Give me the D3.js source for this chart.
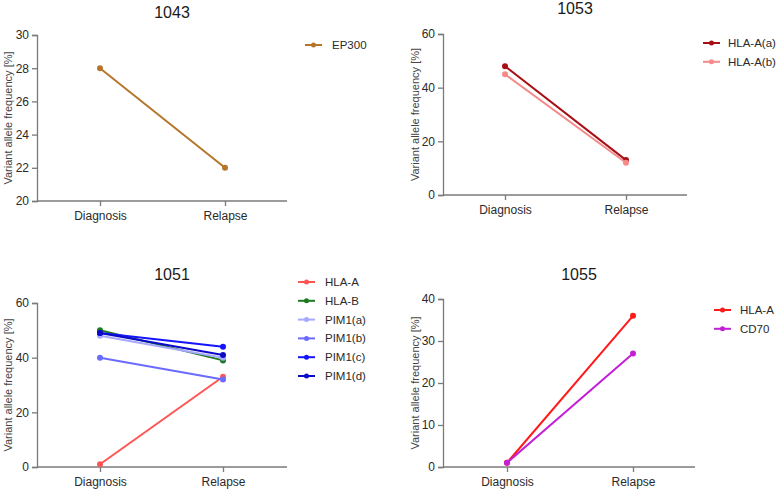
<!DOCTYPE html>
<html><head><meta charset="utf-8">
<script src="https://cdn.jsdelivr.net/npm/d3@7"></script>
<style>body{margin:0;background:#fff}svg{display:block}text{font-family:"Liberation Sans",Arial,sans-serif}</style>
</head><body><svg id="c" width="778" height="489"></svg>
<script>
const timepoints = ["Diagnosis", "Relapse"];
const yLabel = "Variant allele frequency [%]";

const p1043Series = ["EP300"];
const p1043Values = [[28, 22]];
const p1043Colors = ["#b5762c"];
const p1043Ticks = [20, 22, 24, 26, 28, 30];

const p1053Series = ["HLA-A(a)", "HLA-A(b)"];
const p1053Values = [[48, 13], [45, 12]];
const p1053Colors = ["#a50f15", "#f48a8a"];
const p1053Ticks = [0, 20, 40, 60];

const p1051Series = ["HLA-A", "HLA-B", "PIM1(a)", "PIM1(b)", "PIM1(c)", "PIM1(d)"];
const p1051Values = [[1, 33], [50, 39], [48, 40], [40, 32], [49, 44], [49, 41]];
const p1051Colors = ["#ff5555", "#1f7a1f", "#a8a8ff", "#6b6bff", "#1414ff", "#0a0ac8"];
const p1051Ticks = [0, 20, 40, 60];

const p1055Series = ["HLA-A", "CD70"];
const p1055Values = [[1, 36], [1, 27]];
const p1055Colors = ["#ff1a1a", "#c21fd6"];
const p1055Ticks = [0, 10, 20, 30, 40];

const panels = [
  {title:"1043", series:p1043Series, values:p1043Values, colors:p1043Colors, ticks:p1043Ticks,
   x0:37, x1:287, xd:100, xr:225, yTop:35, yBot:201, titleY:18, legX:305, legY:45, ylabX:8, legGap:27},
  {title:"1053", series:p1053Series, values:p1053Values, colors:p1053Colors, ticks:p1053Ticks,
   x0:443, x1:687, xd:505, xr:626, yTop:34, yBot:195, titleY:14, legX:703, legY:43, ylabX:415, legGap:25},
  {title:"1051", series:p1051Series, values:p1051Values, colors:p1051Colors, ticks:p1051Ticks,
   x0:37, x1:287, xd:100, xr:223, yTop:303, yBot:467, titleY:280, legX:298, legY:282, ylabX:8, legGap:27},
  {title:"1055", series:p1055Series, values:p1055Values, colors:p1055Colors, ticks:p1055Ticks,
   x0:443, x1:695, xd:507, xr:633, yTop:299, yBot:467, titleY:280, legX:714, legY:310, ylabX:415, legGap:26}
];

const svg = d3.select("#c");
const axisColor = "#7a7a7a", textColor = "#2a2a2a";

panels.forEach(p => {
  const g = svg.append("g");
  const y = d3.scaleLinear().domain(d3.extent(p.ticks)).range([p.yBot, p.yTop]);
  const x = d3.scalePoint().domain(timepoints).range([p.xd, p.xr]);

  const ya = g.append("g").attr("transform", `translate(${p.x0},0)`)
    .call(d3.axisLeft(y).tickValues(p.ticks).tickSize(5).tickPadding(3));
  const xa = g.append("g").attr("transform", `translate(0,${p.yBot})`)
    .call(d3.axisBottom(x).tickSize(5).tickPadding(5));
  xa.select(".domain").attr("d", `M${p.x0},0H${p.x1}`);
  [ya, xa].forEach(a => {
    a.select(".domain").attr("stroke", axisColor).attr("stroke-width", 1.3);
    a.selectAll(".tick line").attr("stroke", axisColor).attr("stroke-width", 1.3);
    a.selectAll(".tick text").attr("fill", textColor).style("font-size", "12px")
      .style("font-family", '"Liberation Sans",Arial,sans-serif');
  });

  g.append("text").attr("x", (p.x0 + p.x1) / 2 + 10).attr("y", p.titleY)
    .attr("text-anchor", "middle").attr("fill", "#1a1a1a").style("font-size", "16px").text(p.title);

  g.append("text").attr("transform", `translate(${p.ylabX},${(p.yTop + p.yBot) / 2}) rotate(-90)`)
    .attr("dy", "0.35em").attr("text-anchor", "middle").attr("fill", "#444")
    .style("font-size", "11px").text(yLabel);

  const line = d3.line().x((d, i) => x(timepoints[i])).y(d => y(d));
  p.series.forEach((s, i) => {
    g.append("path").datum(p.values[i]).attr("d", line).attr("fill", "none")
      .attr("stroke", p.colors[i]).attr("stroke-width", 2);
    g.selectAll(null).data(p.values[i]).enter().append("circle")
      .attr("cx", (d, j) => x(timepoints[j])).attr("cy", d => y(d)).attr("r", 3)
      .attr("fill", p.colors[i]);
  });

  const step = 18.8;
  p.series.forEach((s, i) => {
    const ly = p.legY + i * step;
    g.append("line").attr("x1", p.legX).attr("x2", p.legX + 17).attr("y1", ly).attr("y2", ly)
      .attr("stroke", p.colors[i]).attr("stroke-width", 2);
    g.append("circle").attr("cx", p.legX + 8.5).attr("cy", ly).attr("r", 2.5).attr("fill", p.colors[i]);
    g.append("text").attr("x", p.legX + p.legGap).attr("y", ly).attr("dy", "0.35em")
      .attr("fill", textColor).style("font-size", "11.5px").text(s);
  });
});
</script></body></html>
